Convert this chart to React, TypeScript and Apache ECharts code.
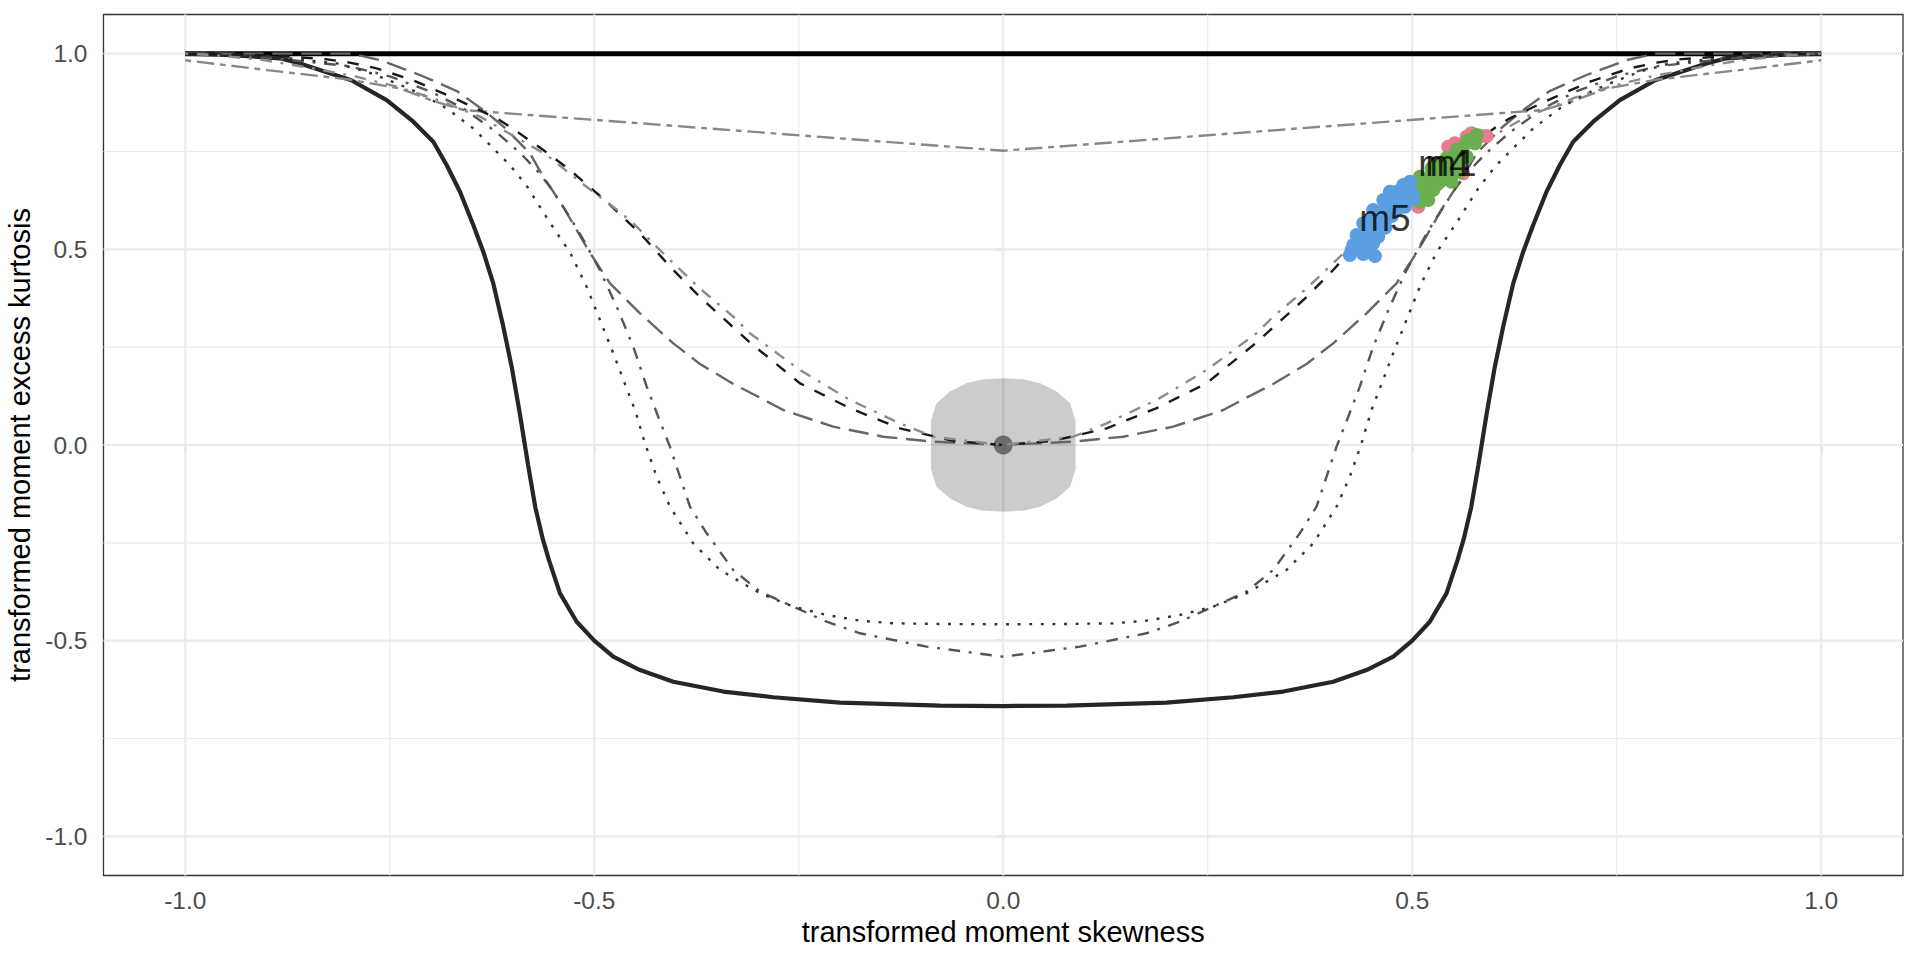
import React, { useEffect, useRef } from "react";
import * as echarts from "echarts";

const FONT = "'Liberation Sans', Arial, Helvetica, sans-serif";

// axis ticks
const xTickValues = [-1, -0.5, 0, 0.5, 1];
const xTickLabels = ["-1.0", "-0.5", "0.0", "0.5", "1.0"];
const yTickValues = [-1, -0.5, 0, 0.5, 1];
const yTickLabels = ["-1.0", "-0.5", "0.0", "0.5", "1.0"];
const majorGridValues = [-1, -0.5, 0, 0.5, 1];
const minorGridValues = [-0.75, -0.25, 0.25, 0.75];

// curves: left halves (x from -1 to 0), the right half is the mirror image
const upperBound = [[-1, 1], [1, 1]];
const lowerBoundHalf = [
  [-1.0, 1.0], [-0.95, 0.997], [-0.8842, 0.988], [-0.8598, 0.975], [-0.797, 0.932],
  [-0.7538, 0.8814], [-0.7212, 0.826], [-0.6968, 0.775], [-0.6805, 0.7154], [-0.6642, 0.647],
  [-0.6479, 0.562], [-0.6357, 0.494], [-0.6235, 0.413], [-0.612, 0.31], [-0.601, 0.2],
  [-0.591, 0.08], [-0.581, -0.05], [-0.572, -0.16], [-0.563, -0.24], [-0.5554, -0.294],
  [-0.5419, -0.379], [-0.5215, -0.4515], [-0.5, -0.5], [-0.4768, -0.541], [-0.4441, -0.575],
  [-0.4034, -0.6048], [-0.3423, -0.63], [-0.2812, -0.6446], [-0.1996, -0.6584], [-0.0774, -0.6661],
  [0, -0.667],
];
const vHalf = [
  [-1, 0.983], [-0.9, 0.958], [-0.8, 0.934], [-0.7377, 0.911], [-0.6968, 0.879], [-0.66, 0.856], [0, 0.752],
];
const dHalf = [
  [-1, 1], [-0.797, 1], [-0.762, 0.9836], [-0.711, 0.9435], [-0.668, 0.9044], [-0.6357, 0.856],
  [-0.61, 0.812], [-0.5786, 0.745], [-0.5623, 0.6855], [-0.5379, 0.6088], [-0.5215, 0.549],
  [-0.505, 0.49], [-0.4808, 0.4131], [-0.4441, 0.3365], [-0.4034, 0.2598], [-0.3708, 0.207],
  [-0.33, 0.156], [-0.2974, 0.121], [-0.269, 0.0894], [-0.2078, 0.0468], [-0.1467, 0.0212],
  [-0.0856, 0.0085], [0, 0],
];
const eHalf = [
  [-1, 1], [-0.9, 0.99], [-0.8, 0.968], [-0.75, 0.942], [-0.7, 0.903], [-0.66, 0.86], [-0.62, 0.8],
  [-0.59, 0.745], [-0.5695, 0.7], [-0.5542, 0.66], [-0.5277, 0.575], [-0.5154, 0.532], [-0.4931, 0.447],
  [-0.4726, 0.3534], [-0.4523, 0.2512], [-0.4359, 0.149], [-0.4218, 0.0723], [-0.4075, -0.0043],
  [-0.383, -0.1576], [-0.3626, -0.2256], [-0.33, -0.3194], [-0.2974, -0.3748], [-0.2567, -0.4131],
  [-0.2159, -0.4515], [-0.1752, -0.4811], [-0.0936, -0.5153], [0, -0.541],
];
const fHalf = [
  [-1, 1], [-0.9, 0.994], [-0.8149, 0.975], [-0.7783, 0.954], [-0.7416, 0.924], [-0.709, 0.894],
  [-0.6805, 0.86], [-0.6479, 0.809], [-0.6234, 0.758], [-0.603, 0.715], [-0.5826, 0.662],
  [-0.5542, 0.568], [-0.5297, 0.492], [-0.5093, 0.4045], [-0.493, 0.3194], [-0.4767, 0.2343],
  [-0.4604, 0.1445], [-0.4502, 0.0894], [-0.438, 0.0043], [-0.4237, -0.081], [-0.4075, -0.1576],
  [-0.379, -0.2512], [-0.3463, -0.3194], [-0.2974, -0.379], [-0.2567, -0.413], [-0.2159, -0.4343],
  [-0.1752, -0.4489], [-0.1345, -0.4556], [-0.07, -0.4575], [0, -0.458],
];
const gHalf = [
  [-1, 1], [-0.9, 0.996], [-0.8292, 0.986], [-0.8007, 0.9778], [-0.766, 0.9624], [-0.7192, 0.93],
  [-0.6662, 0.8814], [-0.6193, 0.8347], [-0.6031, 0.8133], [-0.5623, 0.7537], [-0.5297, 0.7026],
  [-0.4849, 0.6216], [-0.4441, 0.5409], [-0.4034, 0.4471], [-0.3708, 0.378], [-0.3097, 0.262],
  [-0.2485, 0.1576], [-0.187, 0.0937], [-0.1264, 0.0426], [-0.06, 0.01], [0, 0],
];
const hHalf = [
  [-1, 1], [-0.9658, 0.9964], [-0.9046, 0.9837], [-0.8435, 0.9624], [-0.7905, 0.941], [-0.7416, 0.9155],
  [-0.6968, 0.886], [-0.6397, 0.839], [-0.5582, 0.741], [-0.5175, 0.6727], [-0.5012, 0.647],
  [-0.4686, 0.595], [-0.4523, 0.5664], [-0.4115, 0.481], [-0.3708, 0.4], [-0.33, 0.3278],
  [-0.3097, 0.2854], [-0.2485, 0.1916], [-0.1874, 0.115], [-0.1264, 0.0554], [-0.0856, 0.0212], [0, 0],
];

// shaded region around the normal point
const regionPoints = [
  [-0.0884, 0.062], [-0.0817, 0.1065], [-0.0656, 0.1363], [-0.0452, 0.1576], [-0.0248, 0.168], [0, 0.1704],
  [0.0248, 0.168], [0.0452, 0.1576], [0.0656, 0.1363], [0.0817, 0.1065], [0.0884, 0.062],
  [0.0884, -0.062], [0.0817, -0.1065], [0.0656, -0.1363], [0.0452, -0.1576], [0.0248, -0.168], [0, -0.1704],
  [-0.0248, -0.168], [-0.0452, -0.1576], [-0.0656, -0.1363], [-0.0817, -0.1065], [-0.0884, -0.062],
];
const normalPoint = [[0, 0]];

// sample points
const m1Points = [
  [0.5073, 0.6088], [0.515, 0.64], [0.522, 0.66], [0.5298, 0.7197], [0.535, 0.7], [0.544, 0.7622],
  [0.5522, 0.7708], [0.5665, 0.7877], [0.5726, 0.7963], [0.591, 0.7895], [0.5623, 0.6942], [0.55, 0.735],
  [0.558, 0.755], [0.54, 0.715], [0.528, 0.675], [0.575, 0.78], [0.583, 0.79], [0.52, 0.645],
  [0.548, 0.745], [0.562, 0.765],
];
const m4Points = [
  [0.5094, 0.6216], [0.5196, 0.626], [0.5053, 0.6472], [0.5176, 0.643], [0.5257, 0.6515], [0.5134, 0.6643],
  [0.5094, 0.6855], [0.5216, 0.6814], [0.5298, 0.6942], [0.5339, 0.6727], [0.542, 0.6855], [0.5481, 0.6727],
  [0.5583, 0.6983], [0.5379, 0.7026], [0.5237, 0.707], [0.5481, 0.707], [0.5562, 0.7154], [0.5339, 0.7197],
  [0.542, 0.7325], [0.5501, 0.7282], [0.5665, 0.7366], [0.5583, 0.7452], [0.5542, 0.7537], [0.5623, 0.7622],
  [0.5767, 0.7708], [0.5685, 0.7793], [0.5787, 0.792], [0.53, 0.665], [0.545, 0.715], [0.537, 0.69],
  [0.527, 0.685], [0.515, 0.66],
];
const m5Points = [
  [0.4238, 0.4854], [0.4401, 0.488], [0.4544, 0.4829], [0.4259, 0.4982], [0.4462, 0.4982], [0.4279, 0.511],
  [0.4361, 0.5066], [0.4523, 0.5153], [0.4361, 0.5238], [0.432, 0.5365], [0.4483, 0.532], [0.4584, 0.532],
  [0.4442, 0.5536], [0.4401, 0.5664], [0.4565, 0.5578], [0.4483, 0.5749], [0.4666, 0.5705], [0.4605, 0.5833],
  [0.4727, 0.6004], [0.4523, 0.6004], [0.4687, 0.6132], [0.4809, 0.6004], [0.4911, 0.609], [0.4788, 0.6175],
  [0.4646, 0.626], [0.485, 0.63], [0.5012, 0.63], [0.4993, 0.643], [0.4727, 0.6472], [0.4809, 0.6472],
  [0.489, 0.6643], [0.4972, 0.6727], [0.4545, 0.545], [0.462, 0.595], [0.475, 0.585], [0.441, 0.52],
  [0.458, 0.57], [0.49, 0.645], [0.476, 0.632], [0.467, 0.555],
];
const labelNames = ["m1", "m4", "m5"];
const labelPositions = [[0.5473, 0.72], [0.5387, 0.72], [0.4666, 0.579]];

const mirror = (half: number[][]) => [
  ...half,
  ...half.slice(0, -1).reverse().map(([x, y]) => [-x, y]),
];

const U = 2.9;
const DASH = {
  dashed: [4 * U, 4 * U],
  dotted: [1 * U, 3 * U],
  dotdash: [1 * U, 3 * U, 4 * U, 3 * U],
  longdash: [7 * U, 3 * U],
  twodash: [2 * U, 2 * U, 6 * U, 2 * U],
};

export default function App() {
  const ref = useRef<HTMLDivElement>(null);
  useEffect(() => {
    if (!ref.current) return;
    const chart = echarts.init(ref.current, undefined, { renderer: "svg" });

    const gridSeries: any[] = [];
    const addGrid = (v: number, vertical: boolean, major: boolean) => {
      gridSeries.push({
        type: "line",
        silent: true,
        symbol: "none",
        data: vertical ? [[v, -1.1], [v, 1.1]] : [[-1.1, v], [1.1, v]],
        lineStyle: { color: "#EBEBEB", width: major ? 2.2 : 1.1 },
        z: 1,
      });
    };
    minorGridValues.forEach((v) => { addGrid(v, true, false); addGrid(v, false, false); });
    majorGridValues.forEach((v) => { addGrid(v, true, true); addGrid(v, false, true); });

    const curve = (data: number[][], color: string, width: number, type: any) => ({
      type: "line",
      silent: true,
      symbol: "none",
      data,
      lineStyle: { color, width, type, cap: "butt" },
      z: 3,
    });

    const points = (data: number[][], color: string) => ({
      type: "scatter",
      silent: true,
      symbol: "circle",
      symbolSize: 14,
      data,
      itemStyle: { color, opacity: 1 },
      z: 4,
    });

    const option: any = {
      animation: false,
      backgroundColor: "#FFFFFF",
      textStyle: { fontFamily: FONT },
      grid: {
        left: 103.5,
        right: 17,
        top: 14.5,
        bottom: 84.5,
        show: true,
        borderColor: "#333333",
        borderWidth: 1.3,
        backgroundColor: "transparent",
        containLabel: false,
        outerBoundsMode: "none",
      },
      xAxis: {
        type: "value",
        min: -1.1,
        max: 1.1,
        splitLine: { show: false },
        axisLine: { show: false },
        axisTick: {
          show: true,
          customValues: xTickValues,
          length: 7,
          lineStyle: { color: "#333333", width: 1.3 },
        },
        axisLabel: {
          customValues: xTickValues,
          formatter: (v: number) => xTickLabels[xTickValues.findIndex((t) => Math.abs(t - v) < 1e-9)] ?? "",
          fontSize: 24.5,
          color: "#4D4D4D",
          margin: 12,
          fontFamily: FONT,
        },
        name: "transformed moment skewness",
        nameLocation: "middle",
        nameGap: 42,
        nameTextStyle: { fontSize: 29, color: "#000000", fontFamily: FONT },
      },
      yAxis: {
        type: "value",
        min: -1.1,
        max: 1.1,
        splitLine: { show: false },
        axisLine: { show: false },
        axisTick: {
          show: true,
          customValues: yTickValues,
          length: 7,
          lineStyle: { color: "#333333", width: 1.3 },
        },
        axisLabel: {
          customValues: yTickValues,
          formatter: (v: number) => yTickLabels[yTickValues.findIndex((t) => Math.abs(t - v) < 1e-9)] ?? "",
          fontSize: 24.5,
          color: "#4D4D4D",
          margin: 16,
          fontFamily: FONT,
        },
        name: "transformed moment excess kurtosis",
        nameLocation: "middle",
        nameGap: 52,
        nameTextStyle: { fontSize: 29, color: "#000000", fontFamily: FONT },
      },
      series: [
        ...gridSeries,
        {
          type: "custom",
          silent: true,
          data: normalPoint,
          renderItem: (params: any, api: any) => {
            if (params.dataIndex !== 0) return null;
            return {
              type: "polygon",
              shape: { points: regionPoints.map((p) => api.coord(p)) },
              style: { fill: "rgba(0,0,0,0.2)" },
            };
          },
          z: 2,
        },
        {
          type: "scatter",
          silent: true,
          symbolSize: 19,
          data: normalPoint,
          itemStyle: { color: "#555555" },
          z: 2,
        },
        curve(upperBound, "#000000", 5, "solid"),
        curve(mirror(lowerBoundHalf), "#262626", 4.2, "solid"),
        curve(mirror(vHalf), "#888888", 2.4, DASH.twodash),
        curve(mirror(dHalf), "#666666", 2.4, DASH.longdash),
        curve(mirror(eHalf), "#555555", 2.4, DASH.dotdash),
        curve(mirror(fHalf), "#333333", 2.4, DASH.dotted),
        curve(mirror(gHalf), "#1A1A1A", 2.4, DASH.dashed),
        curve(mirror(hHalf), "#8C8C8C", 2.4, DASH.dotdash),
        points(m1Points, "#E87A91"),
        points(m4Points, "#6AAE50"),
        points(m5Points, "#5C9EE2"),
        {
          type: "scatter",
          silent: true,
          symbol: "circle",
          symbolSize: 1,
          itemStyle: { color: "rgba(0,0,0,0)" },
          data: labelNames.map((n, i) => ({ name: n, value: labelPositions[i] })),
          label: {
            show: true,
            position: "inside",
            formatter: (p: any) => p.name,
            fontSize: 37,
            color: "#000000",
            fontFamily: FONT,
          },
          z: 5,
        },
      ],
    };
    chart.setOption(option);
    return () => chart.dispose();
  }, []);
  return (
    <div
      ref={ref}
      style={{ position: "fixed", left: 0, top: 0, width: 1920, height: 960, background: "#FFFFFF" }}
    />
  );
}
